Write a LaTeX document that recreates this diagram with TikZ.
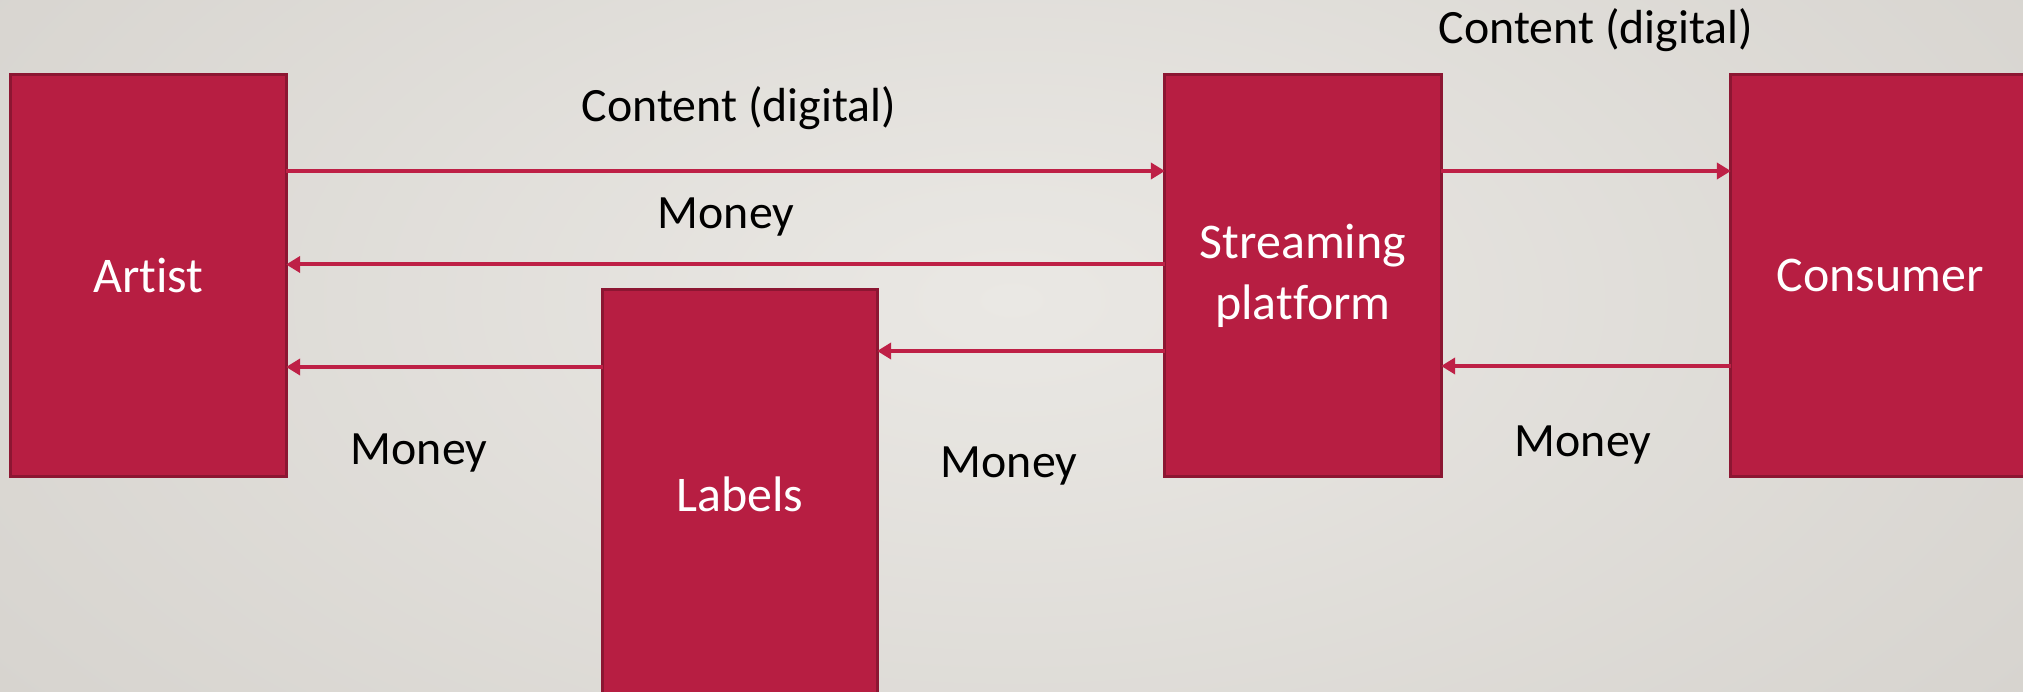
\documentclass[tikz,border=0pt]{standalone}
\usepackage{fontspec}
\setmainfont{Carlito}[Ligatures={NoCommon}]
\usetikzlibrary{arrows.meta}
\definecolor{boxred}{RGB}{183,30,66}
\definecolor{boxedge}{RGB}{140,22,50}
\definecolor{arrred}{RGB}{190,32,70}
\definecolor{bgin}{RGB}{234,232,228}
\definecolor{bgout}{RGB}{214,211,206}
\tikzset{
  box/.style={rectangle, fill=boxred, draw=boxedge, line width=0.03cm, inner sep=0pt, outer sep=0pt,
    text=white, align=center, font=\fontsize{14.2}{17.4}\selectfont},
  flow/.style={draw=arrred, line width=0.04cm, -{Triangle[length=0.14cm,width=0.16cm]}},
  lbl/.style={anchor=base, inner sep=0pt, text=black, font=\fontsize{13.6}{16}\selectfont}
}
\begin{document}
\begin{tikzpicture}[x=0.01cm, y=-0.01cm]
\clip (0,0) rectangle (2023,692);
\shade[inner color=bgin, outer color=bgout] (-300,-400) rectangle (2323,1000);
\node[box, minimum width=2.75cm, minimum height=4.01cm] (artist) at (148.5,275.5) {Artist};
\node[box, minimum width=2.76cm, minimum height=4.01cm] (stream) at (1303,275.5) {Streaming\\platform};
\node[box, minimum width=2.98cm, minimum height=4.01cm] (consumer) at (1880,275.5) {Consumer};
\node[box, minimum width=2.74cm, minimum height=4.08cm] (labels) at (740,494) {Labels};
\draw[flow] (artist.east |- 0,171) -- (stream.west |- 0,171);
\draw[flow] (stream.west |- 0,264.5) -- (artist.east |- 0,264.5);
\draw[flow] (labels.west |- 0,367) -- (artist.east |- 0,367);
\draw[flow] (stream.west |- 0,351) -- (labels.east |- 0,351);
\draw[flow] (stream.east |- 0,171) -- (consumer.west |- 0,171);
\draw[flow] (consumer.west |- 0,366) -- (stream.east |- 0,366);
\node[lbl] (c1) at (739,122) {Content (digital)};
\node[lbl] (m1) at (726,229) {Money};
\node[lbl] (m2) at (419,465) {Money};
\node[lbl] (m3) at (1009,478) {Money};
\node[lbl] (m4) at (1583,457) {Money};
\node[lbl] (c2) at (1596,44) {Content (digital)};
\end{tikzpicture}
\end{document}
